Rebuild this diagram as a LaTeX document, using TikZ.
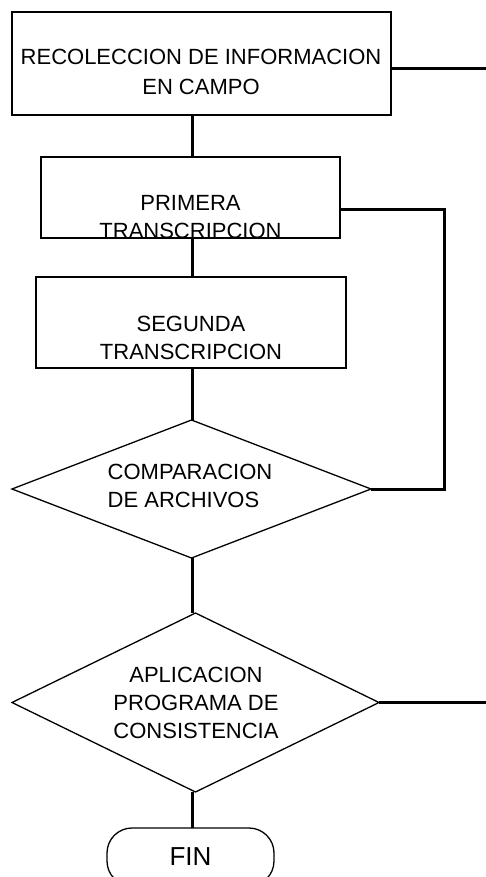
\documentclass[tikz,border=0pt]{standalone}
\usepackage{fontspec}
\setmainfont{Liberation Sans}
\usetikzlibrary{shapes.geometric}

\begin{document}
\begin{tikzpicture}[x=1pt, y=-1pt]
			
			\tikzset{
				txt/.style={font=\fontsize{22}{28}\selectfont, inner sep=0pt},
				proc/.style={draw, line width=1.3pt, inner sep=0pt, outer sep=0pt},
				dec/.style={draw, diamond, line width=1.3pt, inner sep=0pt, outer sep=0pt},
				term/.style={draw, line width=1.3pt, rounded corners=25pt, inner sep=0pt, outer sep=0pt,
					minimum width=167pt, minimum height=58pt, font=\fontsize{26}{30}\selectfont},
				link/.style={line width=3pt}
			}
			
			\useasboundingbox (0,0) rectangle (486,877);
			\clip (0,0) rectangle (486,877);
			
			% ---------------------------
			% Process boxes
			% ---------------------------
			\node[proc, minimum width=379pt, minimum height=103pt,
				label={[txt, align=center, font=\fontsize{22}{30}\selectfont, xshift=-0.5pt, yshift=-8.5pt]center:RECOLECCION DE INFORMACION\\EN CAMPO}]
				(recol) at (201.5,63.5) {};
			\node[proc, minimum width=299pt, minimum height=81pt,
				label={[txt, align=center, yshift=-20pt]center:PRIMERA\\TRANSCRIPCION}]
				(prim) at (190.5,197.5) {};
			\node[proc, minimum width=310pt, minimum height=91pt,
				label={[txt, align=center, yshift=-15.5pt]center:SEGUNDA\\TRANSCRIPCION}]
				(seg) at (191,322.5) {};
			
			% ---------------------------
			% Decisions and end
			% ---------------------------
			\node[dec, minimum width=359pt, minimum height=138pt,
				label={[txt, align=left, xshift=-1.5pt, yshift=3.5pt]center:COMPARACION\\DE ARCHIVOS}]
				(comp) at (191.5,489) {};
			\node[dec, minimum width=367pt, minimum height=179pt,
				label={[txt, align=center, xshift=0.5pt]center:APLICACION\\PROGRAMA DE\\CONSISTENCIA}]
				(apli) at (195.5,702.5) {};
			\node[term] (fin) at (190.5,857) {FIN};
			
			% ---------------------------
			% Connectors
			% ---------------------------
			\coordinate (spine) at (192,0);
			\coordinate (outA) at (486,69);
			\coordinate (loop) at (444,210);
			\coordinate (outB) at (486,702.5);
			
			\draw[link] (recol.south -| spine) -- (prim.north -| spine);
			\draw[link] (prim.south -| spine) -- (seg.north -| spine);
			\draw[link] (seg.south -| spine) -- (comp.north -| spine);
			\draw[link] (comp.south -| spine) -- (apli.north -| spine);
			\draw[link] (apli.south -| spine) -- (fin.north -| spine);
			
			\draw[link] (recol.east |- outA) -- (outA);
			\draw[link] (prim.east |- loop) -- (loop) |- (comp.east);
			\draw[link] (apli.east) -- (outB);
			
		\end{tikzpicture}
\end{document}
